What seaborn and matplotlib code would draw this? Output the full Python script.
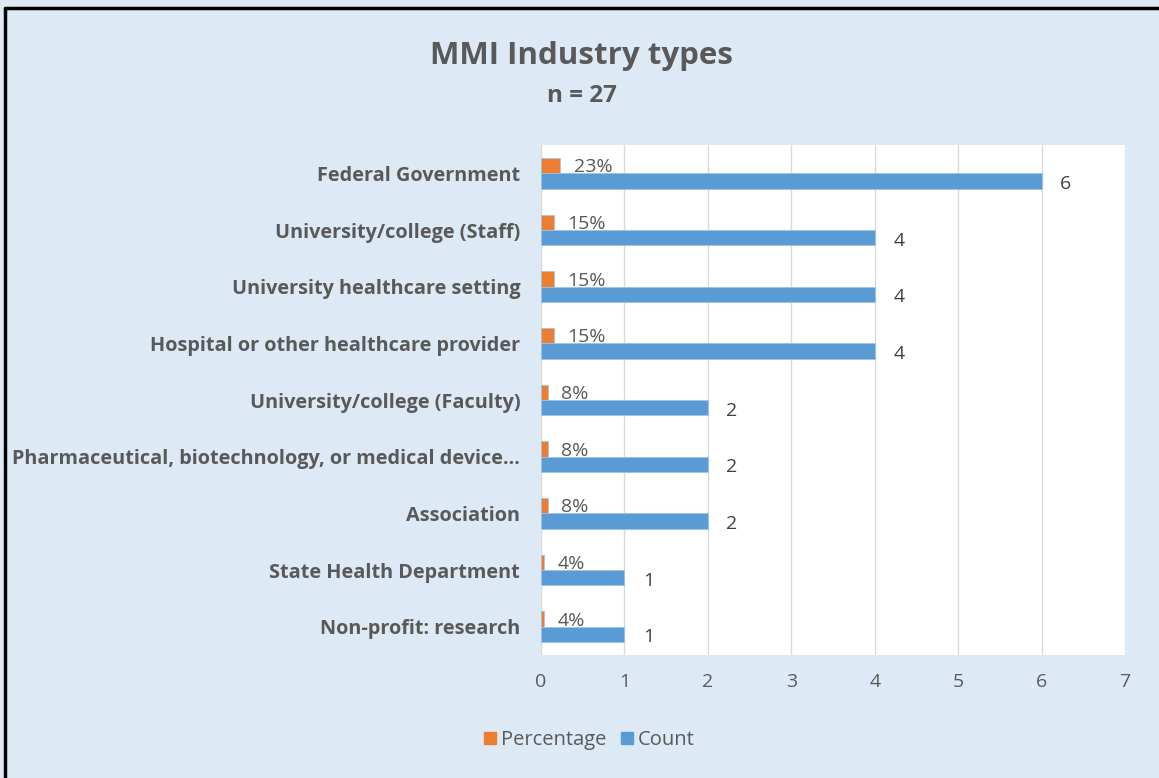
"""
MMI industry types - horizontal grouped bar chart (count + percentage).
"""
import matplotlib
matplotlib.use('Agg')
import matplotlib.pyplot as plt
import matplotlib.lines as mlines
import pandas as pd
import seaborn as sns

# Data
CATEGORIES = [
    "Federal Government",
    "University/college (Staff)",
    "University healthcare setting",
    "Hospital or other healthcare provider",
    "University/college (Faculty)",
    "Pharmaceutical, biotechnology, or medical device…",
    "Association",
    "State Health Department",
    "Non-profit: research",
]
COUNTS = [6, 4, 4, 4, 2, 2, 2, 1, 1]
PERCENTAGES = [0.23, 0.15, 0.15, 0.15, 0.08, 0.08, 0.08, 0.04, 0.04]
SERIES = ["Percentage", "Count"]
X_TICKS = [0, 1, 2, 3, 4, 5, 6, 7]
TITLE = "MMI Industry types"
SUBTITLE = "n = 27"

BG = "#DDEAF6"
BLUE = "#5B9BD5"
ORANGE = "#ED7D31"
TEXT = "#595959"

sns.set_theme(style="white")
plt.rcParams['font.family'] = ['Open Sans', 'DejaVu Sans']

df = pd.concat([
    pd.DataFrame({"category": CATEGORIES, "series": "Percentage", "value": PERCENTAGES}),
    pd.DataFrame({"category": CATEGORIES, "series": "Count", "value": COUNTS}),
])

fig = plt.figure(figsize=(11.59, 7.78), dpi=100, facecolor=BG)
ax = fig.add_axes([0.4668, 0.158, 0.504, 0.6556])
ax.set_facecolor("white")

sns.barplot(
    data=df, y="category", x="value", hue="series", order=CATEGORIES,
    hue_order=SERIES, palette=[ORANGE, BLUE], saturation=1, orient="h",
    width=0.54, ax=ax, legend=False, edgecolor="#9DC3E6", linewidth=0.6,
)

# data labels
for container, kind in zip(ax.containers, SERIES):
    for bar in container:
        w = bar.get_width()
        yc = bar.get_y() + bar.get_height() / 2
        if kind == "Percentage":
            ax.text(w + 0.16, yc + 0.03, f"{w * 100:.0f}%", ha="left", va="center",
                    fontsize=14, color=TEXT)
        else:
            ax.text(w + 0.22, yc + 0.05, f"{int(w)}", ha="left", va="center",
                    fontsize=14, color="#404040")

ax.set_xlim(0, 7)
ax.set_xticks(X_TICKS)
ax.set_xticklabels([str(t) for t in X_TICKS], fontsize=14, color=TEXT)
ax.tick_params(axis="x", pad=13, length=0)
ax.tick_params(axis="y", length=0, pad=15)
for lbl in ax.get_yticklabels():
    lbl.set_fontsize(14.3)
    lbl.set_fontweight("bold")
    lbl.set_color(TEXT)
ax.set_xlabel("")
ax.set_ylabel("")
ax.grid(axis="x", color="#D9D9D9", linewidth=1)
ax.set_axisbelow(True)
for s in ax.spines.values():
    s.set_visible(False)

fig.text(0.502, 0.928, TITLE, ha="center", va="center", fontsize=22.5,
         fontweight="bold", color=TEXT)
fig.text(0.502, 0.876, SUBTITLE, ha="center", va="center", fontsize=17.5,
         fontweight="bold", color=TEXT)

# legend
handles = [mlines.Line2D([], [], marker="s", linestyle="", markersize=9,
                         color=c) for c in (ORANGE, BLUE)]
fig.legend(handles, SERIES, loc="center", bbox_to_anchor=(0.507, 0.049),
           ncol=2, frameon=False, fontsize=14.5, handletextpad=0.05,
           handlelength=1.0, columnspacing=0.5, labelcolor=TEXT)

# frame around the chart
fig.add_artist(mlines.Line2D([0.004, 0.004], [0.0, 0.99], color="black",
                             linewidth=2.5, transform=fig.transFigure))
fig.add_artist(mlines.Line2D([0.004, 1.0], [0.99, 0.99], color="black",
                             linewidth=2.5, transform=fig.transFigure))

fig.savefig("out.png", dpi=100, facecolor=BG)
plt.close()
